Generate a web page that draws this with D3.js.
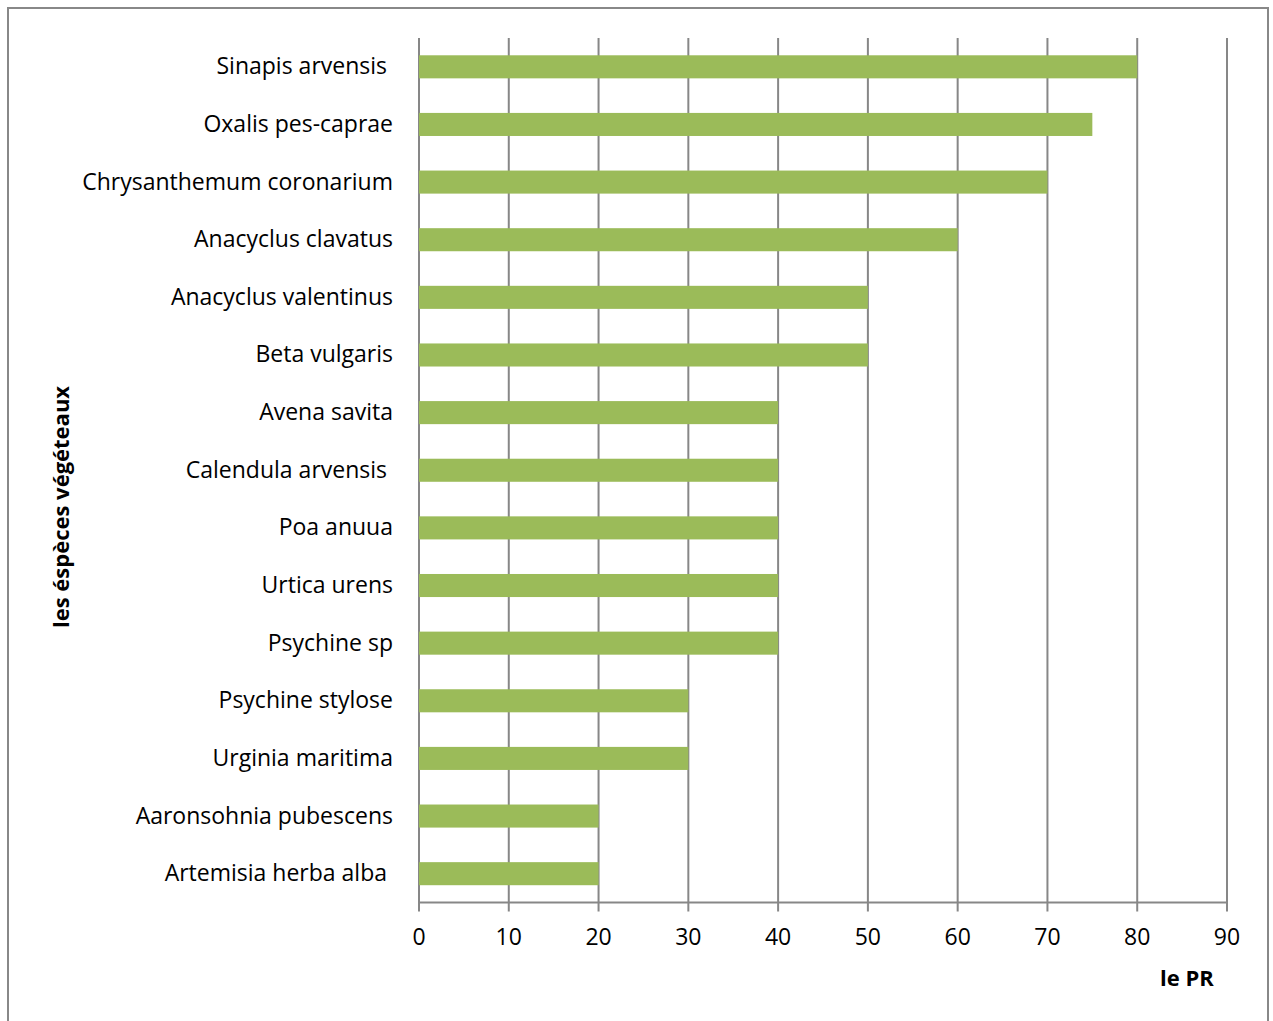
<!DOCTYPE html>
<html><head><meta charset="utf-8">
<script src="https://cdn.jsdelivr.net/npm/d3@7"></script>
<style>
body{margin:0;background:#fff;}
svg text{font-family:"Open Sans",sans-serif;fill:#000;}
</style></head>
<body>
<svg id="chart" width="1273" height="1021"></svg>
<script>
const categories = ["Sinapis arvensis ","Oxalis pes-caprae","Chrysanthemum coronarium","Anacyclus clavatus","Anacyclus valentinus","Beta vulgaris","Avena savita","Calendula arvensis ","Poa anuua","Urtica urens","Psychine sp","Psychine stylose","Urginia maritima","Aaronsohnia pubescens","Artemisia herba alba "];
const values = [80,75,70,60,50,50,40,40,40,40,40,30,30,20,20];
const xTicks = [0,10,20,30,40,50,60,70,80,90];
const xTitle = "le PR";
const yTitle = "les éspèces végéteaux";

const svg = d3.select("#chart");
svg.append("rect").attr("x",8).attr("y",8).attr("width",1260).attr("height",1030)
  .attr("fill","none").attr("stroke","#888").attr("stroke-width",2);

const pLeft=419, pRight=1227, pTop=38, pBottom=902.5;
const x = d3.scaleLinear().domain([0,90]).range([pLeft,pRight]);
const y = d3.scaleBand().domain(categories).range([pTop,pBottom]).paddingInner(0.6).paddingOuter(0.3);

// gridlines
svg.append("g").selectAll("line").data(xTicks).join("line")
  .attr("x1",d=>x(d)).attr("x2",d=>x(d)).attr("y1",pTop).attr("y2",pBottom+9)
  .attr("stroke","#878787").attr("stroke-width",2);
// axis line
svg.append("line").attr("x1",pLeft).attr("x2",pRight).attr("y1",pBottom).attr("y2",pBottom)
  .attr("stroke","#878787").attr("stroke-width",2);

// bars
svg.append("g").selectAll("rect").data(values).join("rect")
  .attr("x",x(0)).attr("y",(d,i)=>y(categories[i]))
  .attr("width",d=>x(d)-x(0)).attr("height",y.bandwidth())
  .attr("fill","#9BBB59");

// category labels
svg.append("g").selectAll("text").data(categories).join("text")
  .attr("x",393).attr("y",d=>y(d)+y.bandwidth()/2-1.5)
  .attr("text-anchor","end").attr("dominant-baseline","central")
  .style("white-space","pre").attr("font-size",23).text(d=>d);

// tick labels
svg.append("g").selectAll("text").data(xTicks).join("text")
  .attr("x",d=>x(d)).attr("y",936).attr("text-anchor","middle")
  .attr("dominant-baseline","central").attr("font-size",23).text(d=>d);

svg.append("text").attr("x",1187).attr("y",977).attr("text-anchor","middle")
  .attr("dominant-baseline","central").attr("font-size",22).attr("font-weight","bold").text(xTitle);
svg.append("text").attr("transform","translate(60,507) rotate(-90)").attr("text-anchor","middle")
  .attr("dominant-baseline","central").attr("font-size",22).attr("font-weight","bold").text(yTitle);
</script>
</body></html>
